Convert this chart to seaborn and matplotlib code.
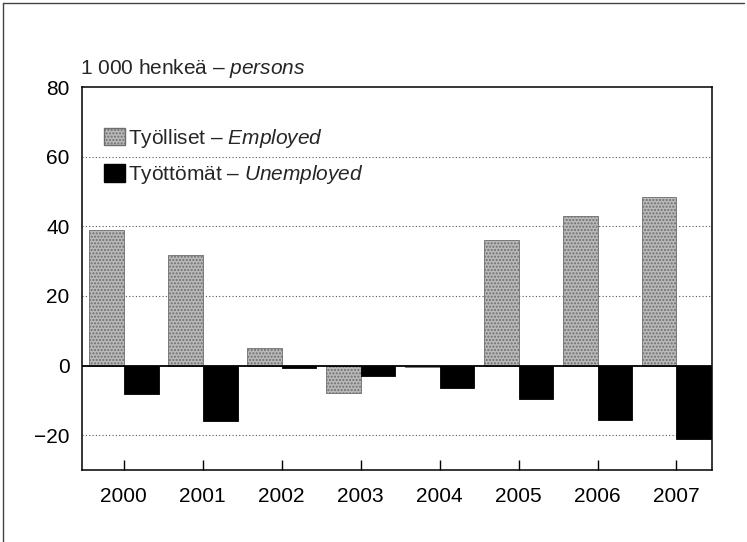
import numpy as np
import pandas as pd
import matplotlib.pyplot as plt
import matplotlib.patches as mpatches
from matplotlib.lines import Line2D
import seaborn as sns

# Chart data (1 000 persons, annual change)
years = ['2000', '2001', '2002', '2003', '2004', '2005', '2006', '2007']
employed = [39.0, 31.8, 5.0, -7.8, -0.3, 36.1, 43.0, 48.4]
unemployed = [-8.3, -15.9, -0.8, -2.9, -6.4, -9.5, -15.7, -21.0]
series_labels = ['Työlliset', 'Työttömät']
y_ticks = [-20, 0, 20, 40, 60, 80]

df = pd.DataFrame({
    'year': years * 2,
    'value': employed + unemployed,
    'series': [series_labels[0]] * len(years) + [series_labels[1]] * len(years),
})

sns.set_style('white')
plt.rcParams['font.family'] = ['Liberation Sans', 'DejaVu Sans']
plt.rcParams['mathtext.fontset'] = 'custom'
plt.rcParams['mathtext.rm'] = 'Liberation Sans'
plt.rcParams['mathtext.it'] = 'Liberation Sans:italic'

fs = 15
fig = plt.figure(figsize=(7.47, 5.42), dpi=100)
ax = fig.add_axes([82 / 747, 1 - 470 / 542, 630 / 747, 383 / 542])

grey = '#b9b9b9'
palette = {series_labels[0]: grey, series_labels[1]: '#000000'}
sns.barplot(data=df, x='year', y='value', hue='series', palette=palette,
            width=0.88, ax=ax, legend=False, saturation=1)

# texture / outline on the bars
for bar in ax.patches:
    fc = bar.get_facecolor()
    if fc[0] > 0.5:
        bar.set_hatch('.....')
        bar.set_edgecolor('#6e6e6e')
        bar.set_linewidth(0.6)
    else:
        bar.set_edgecolor('black')
        bar.set_linewidth(0.6)

ax.set_xlim(-0.53, 7.45)
ax.set_ylim(-30, 80)
ax.set_yticks(y_ticks)
ax.set_yticklabels(['\u221220' if t < 0 else str(t) for t in y_ticks])
for t in [-20, 20, 40, 60]:
    ax.axhline(t, color='#555555', linestyle=(0, (1, 2)), linewidth=0.8, zorder=0)
ax.axhline(0, color='black', linewidth=1.3, zorder=3)

ax.set_xlabel('')
ax.set_ylabel('')
ax.tick_params(axis='x', direction='in', length=7, width=1, colors='black',
               labelsize=fs, pad=12, bottom=True)
ax.tick_params(axis='y', length=0, labelsize=fs, pad=9, colors='black')
for s in ax.spines.values():
    s.set_color('black')
    s.set_linewidth(1.1)

# unit label above the plot
ax.text(-0.003, 1.018, '1 000 henkeä \u2013 $\\it{persons}$', transform=ax.transAxes,
        fontsize=fs, ha='left', va='bottom')

handles = [mpatches.Patch(facecolor=grey, edgecolor='#6e6e6e', hatch='.....'),
           mpatches.Patch(facecolor='black', edgecolor='black')]
labels = ['Työlliset \u2013 $\\it{Employed}$', 'Työttömät \u2013 $\\it{Unemployed}$']
leg = ax.legend(handles, labels, loc='upper left', bbox_to_anchor=(0.022, 0.918),
                frameon=False, fontsize=fs, handlelength=1.0, handleheight=0.9,
                handletextpad=0.12, labelspacing=0.65, borderaxespad=0)

# scanned page border
fig.add_artist(Line2D([3 / 747, 3 / 747], [0, 1 - 3 / 542], color='#444444', lw=1))
fig.add_artist(Line2D([3 / 747, 744 / 747], [1 - 3 / 542, 1 - 3 / 542], color='#444444', lw=1))

fig.savefig('out.png', dpi=100)
